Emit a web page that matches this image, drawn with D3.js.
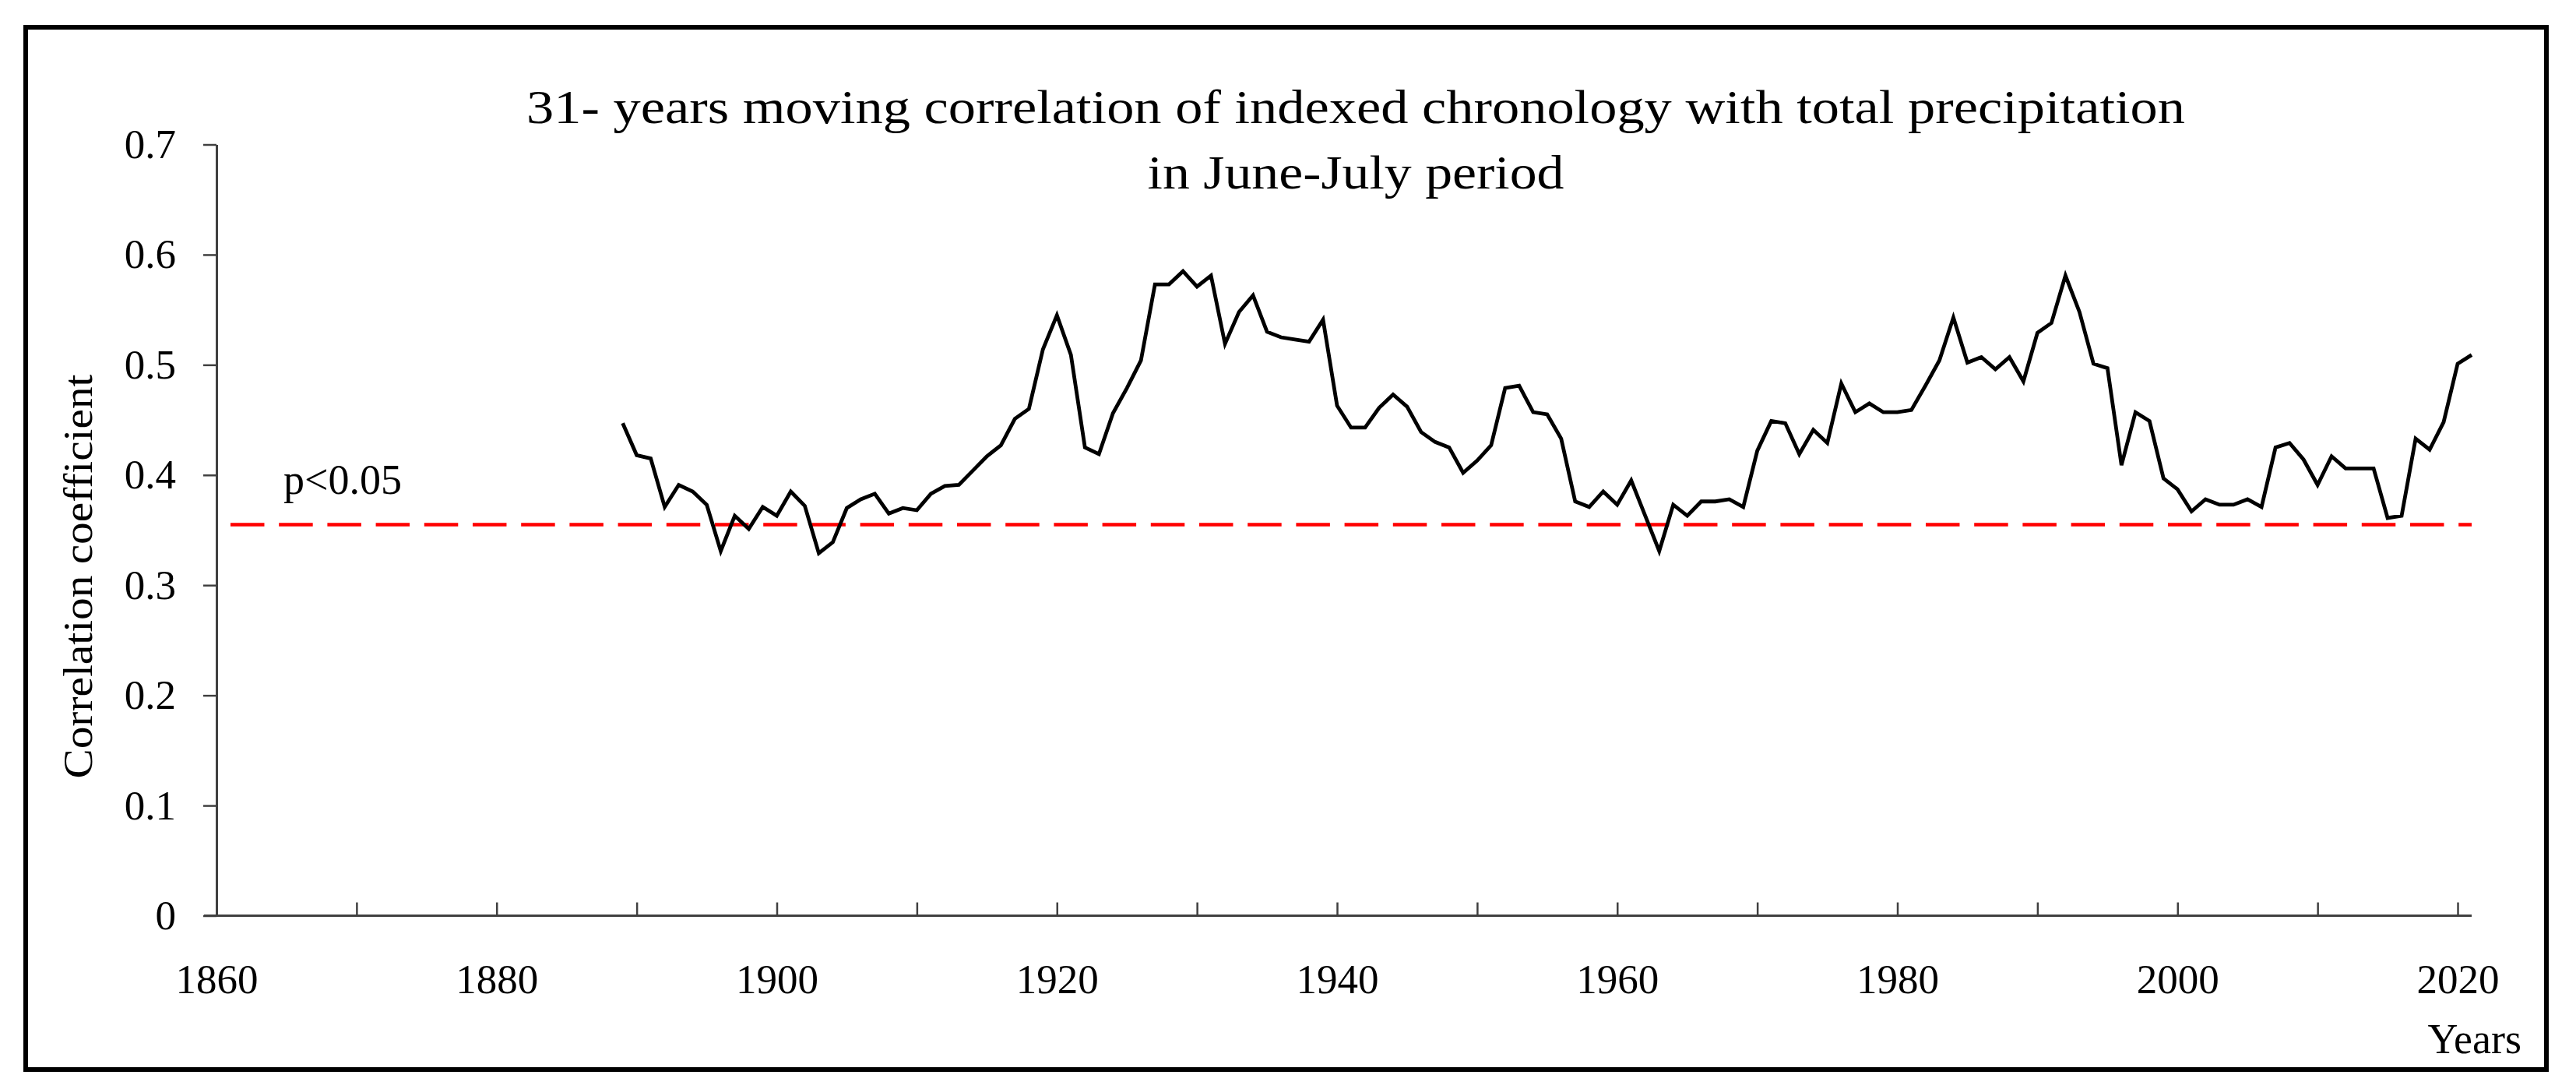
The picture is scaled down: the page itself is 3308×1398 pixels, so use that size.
<!DOCTYPE html>
<html>
<head>
<meta charset="utf-8">
<script src="https://d3js.org/d3.v7.min.js"></script>
<style>
  html, body { margin: 0; padding: 0; background: #fff; }
  svg { display: block; }
  text { font-family: "Liberation Serif", "DejaVu Serif", serif; fill: #000; }
</style>
</head>
<body>
<svg id="chart" width="3308" height="1398"></svg>
<script>
// ---------- data ----------
const years = [1889,1890,1891,1892,1893,1894,1895,1896,1897,1898,1899,
  1900,1901,1902,1903,1904,1905,1906,1907,1908,1909,
  1910,1911,1912,1913,1914,1915,1916,1917,1918,1919,
  1920,1921,1922,1923,1924,1925,1926,1927,1928,1929,
  1930,1931,1932,1933,1934,1935,1936,1937,1938,1939,
  1940,1941,1942,1943,1944,1945,1946,1947,1948,1949,
  1950,1951,1952,1953,1954,1955,1956,1957,1958,1959,
  1960,1961,1962,1963,1964,1965,1966,1967,1968,1969,
  1970,1971,1972,1973,1974,1975,1976,1977,1978,1979,
  1980,1981,1982,1983,1984,1985,1986,1987,1988,1989,
  1990,1991,1992,1993,1994,1995,1996,1997,1998,1999,
  2000,2001,2002,2003,2004,2005,2006,2007,2008,2009,
  2010,2011,2012,2013,2014,2015,2016,2017,2018,2019,
  2020,2021];
const correlation = [0.447,0.418,0.415,0.371,0.391,0.385,0.373,0.331,0.363,0.351,0.371,
  0.363,0.385,0.372,0.329,0.339,0.370,0.378,0.383,0.365,0.370,
  0.368,0.383,0.390,0.391,0.404,0.417,0.427,0.451,0.460,0.514,
  0.545,0.509,0.425,0.419,0.456,0.479,0.504,0.573,0.573,0.585,
  0.571,0.581,0.519,0.548,0.563,0.530,0.525,0.523,0.521,0.541,
  0.463,0.443,0.443,0.461,0.473,0.462,0.439,0.430,0.425,0.402,
  0.413,0.427,0.479,0.481,0.457,0.455,0.433,0.376,0.371,0.385,
  0.373,0.395,0.363,0.331,0.373,0.363,0.376,0.376,0.378,0.371,
  0.422,0.449,0.447,0.419,0.441,0.429,0.483,0.457,0.465,0.457,
  0.457,0.459,0.481,0.504,0.543,0.502,0.507,0.496,0.507,0.485,
  0.529,0.538,0.581,0.548,0.501,0.497,0.409,0.457,0.449,0.397,
  0.387,0.367,0.378,0.373,0.373,0.378,0.371,0.425,0.429,0.414,
  0.391,0.417,0.406,0.406,0.406,0.361,0.363,0.433,0.423,0.448,
  0.501,0.509];
const significance = 0.355;          // p<0.05 threshold
const thresholdYears = [1861, 2021];
const yTicks = [0, 0.1, 0.2, 0.3, 0.4, 0.5, 0.6, 0.7];
const yTickLabels = ["0", "0.1", "0.2", "0.3", "0.4", "0.5", "0.6", "0.7"];
const xTicks = [1860,1870,1880,1890,1900,1910,1920,1930,1940,1950,1960,1970,1980,1990,2000,2010,2020];
const xTickLabels = ["1860","1880","1900","1920","1940","1960","1980","2000","2020"];
const titleLines = ["31- years moving correlation of indexed chronology with total precipitation", "in June-July period"];
const yAxisTitle = "Correlation  coefficient";
const xAxisTitle = "Years";
const sigLabel = "p<0.05";

// ---------- layout ----------
const svg = d3.select("#chart");
const x = d3.scaleLinear().domain([1860, 2021]).range([278, 3174]);
const y = d3.scaleLinear().domain([0, 0.7]).range([1175.5, 185.5]);
const axisColor = "#404040";

// outer frame
svg.append("rect").attr("x", 33).attr("y", 35).attr("width", 3237).attr("height", 1338)
  .attr("fill", "none").attr("stroke", "#000").attr("stroke-width", 6);

// title
svg.append("text").attr("x", 1741).attr("y", 158).attr("text-anchor", "middle")
  .attr("font-size", 62).attr("textLength", 2130).attr("lengthAdjust", "spacingAndGlyphs")
  .text(titleLines[0]);
svg.append("text").attr("x", 1741).attr("y", 242).attr("text-anchor", "middle")
  .attr("font-size", 62).attr("textLength", 535).attr("lengthAdjust", "spacingAndGlyphs")
  .text(titleLines[1]);

// y axis
const yAxis = d3.axisLeft(y).tickValues(yTicks)
  .tickFormat((d, i) => yTickLabels[i]).tickSize(17).tickSizeOuter(0).tickPadding(35);
const gy = svg.append("g").attr("transform", `translate(${x(1860)},0)`).call(yAxis);
gy.select(".domain").attr("stroke", axisColor).attr("stroke-width", 3);
gy.selectAll(".tick line").attr("stroke", axisColor).attr("stroke-width", 2.5);
gy.selectAll(".tick text").attr("font-size", 53).attr("font-family", "Liberation Serif").attr("fill", "#000");

// x axis (ticks inward)
const xAxis = d3.axisBottom(x).tickValues(xTicks)
  .tickFormat(d => xTickLabels.includes(String(d)) ? String(d) : "")
  .tickSize(-17).tickSizeOuter(0).tickPadding(62);
const gx = svg.append("g").attr("transform", `translate(0,${y(0)})`).call(xAxis);
gx.select(".domain").attr("stroke", axisColor).attr("stroke-width", 3)
  .attr("d", `M${x(1860) - 16},0H${x(2021)}`);
gx.selectAll(".tick line").attr("stroke", axisColor).attr("stroke-width", 2.5);
gx.selectAll(".tick text").attr("font-size", 53).attr("font-family", "Liberation Serif").attr("fill", "#000");

// axis titles
svg.append("text")
  .attr("transform", `translate(118,740) rotate(-90)`)
  .attr("text-anchor", "middle").attr("font-size", 52)
  .attr("textLength", 519).attr("lengthAdjust", "spacingAndGlyphs")
  .text(yAxisTitle);
svg.append("text").attr("x", 3238).attr("y", 1352).attr("text-anchor", "end")
  .attr("font-size", 54).text(xAxisTitle);

// threshold line
svg.append("line")
  .attr("x1", x(thresholdYears[0])).attr("x2", x(thresholdYears[1]))
  .attr("y1", y(significance)).attr("y2", y(significance))
  .attr("stroke", "#ff0000").attr("stroke-width", 4.6)
  .attr("stroke-dasharray", "43.5 18.7");
svg.append("text").attr("x", 364).attr("y", 634).attr("font-size", 54).text(sigLabel);

// series line
const pts = years.map((yr, i) => [yr, correlation[i]]);
svg.append("path").datum(pts)
  .attr("fill", "none").attr("stroke", "#000").attr("stroke-width", 4.8)
  .attr("stroke-linejoin", "miter")
  .attr("d", d3.line().x(d => x(d[0])).y(d => y(d[1])));
</script>
</body>
</html>
